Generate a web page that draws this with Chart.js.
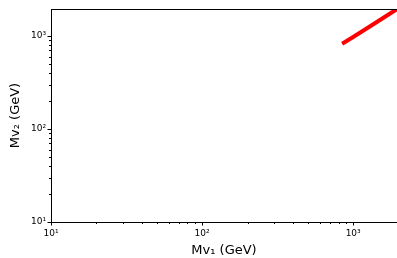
<!DOCTYPE html>
<html>
<head>
<meta charset="utf-8">
<script src="https://cdn.jsdelivr.net/npm/chart.js@4"></script>
<style>
  html, body { margin: 0; padding: 0; background: #fff; overflow: hidden; }
  #wrap { width: 397px; height: 258px; }
</style>
</head>
<body>
<div id="wrap"><canvas id="c" width="397" height="258"></canvas></div>
<script>
// values (log-log, GeV)
const mv1 = [845, 1000, 1400, 2000];
const mv2 = [825, 975, 1380, 2000];
const axisMin = 10;
const axisMax = 1950;
const decadeLabels = { 10: '10\u00b9', 100: '10\u00b2', 1000: '10\u00b3' };

const tickFont = { family: 'DejaVu Sans', size: 9 };
const titleFont = { family: 'DejaVu Sans', size: 13 };

// matplotlib-like outward tick marks (long on decades, short on 2..9) + top spine
const tickMarks = {
  id: 'tickMarks',
  afterDraw(chart) {
    const { ctx, chartArea: a, scales } = chart;
    ctx.save();
    ctx.strokeStyle = '#000';
    ctx.lineWidth = 1;
    for (const id of ['x', 'y']) {
      const s = scales[id];
      for (const t of s.ticks) {
        const e = Math.log10(t.value);
        const m = t.value / Math.pow(10, Math.floor(e + 1e-9));
        if (Math.abs(m - Math.round(m)) > 1e-6) continue;
        const major = Math.abs(e - Math.round(e)) < 1e-9;
        const len = major ? 3.5 : 2;
        const p = Math.round(s.getPixelForValue(t.value)) + 0.5;
        ctx.beginPath();
        if (id === 'x') { ctx.moveTo(p, a.bottom); ctx.lineTo(p, a.bottom + len); }
        else { ctx.moveTo(a.left, p); ctx.lineTo(a.left - len, p); }
        ctx.stroke();
      }
    }
    ctx.beginPath();
    ctx.moveTo(a.left, a.top + 0.5);
    ctx.lineTo(a.right, a.top + 0.5);
    ctx.stroke();
    ctx.restore();
  }
};

const chart = new Chart(document.getElementById('c'), {
  type: 'line',
  data: {
    datasets: [{
      data: mv1.map((x, i) => ({ x, y: mv2[i] })),
      borderColor: '#ff0000',
      borderWidth: 4,
      pointRadius: 0,
      fill: false,
      tension: 0
    }]
  },
  options: {
    responsive: false,
    animation: false,
    layout: { padding: { top: 9, right: 0, left: 0, bottom: 0 } },
    plugins: { legend: { display: false }, tooltip: { enabled: false } },
    scales: {
      x: {
        type: 'logarithmic',
        min: axisMin,
        max: axisMax,
        grid: { display: false, drawTicks: false },
        border: { display: true, color: '#000', width: 1 },
        ticks: {
          autoSkip: false, maxRotation: 0, padding: 6,
          color: '#000', font: tickFont,
          callback: v => decadeLabels[v] || ''
        },
        title: { display: true, text: 'Mv\u2081 (GeV)', color: '#000', font: titleFont, padding: { top: 0, bottom: 0 } },
        afterFit(s) { s.height = 36; s.paddingLeft = 0; s.paddingRight = 0; }
      },
      y: {
        type: 'logarithmic',
        min: axisMin,
        max: axisMax,
        grid: { display: false, drawTicks: false },
        border: { display: true, color: '#000', width: 1 },
        ticks: {
          autoSkip: false, padding: 5,
          color: '#000', font: tickFont,
          callback: v => decadeLabels[v] || ''
        },
        title: { display: true, text: 'Mv\u2082 (GeV)', color: '#000', font: titleFont, padding: { top: 8, bottom: 0 } },
        afterFit(s) { s.width = 51; s.paddingTop = 0; s.paddingBottom = 0; }
      }
    }
  },
  plugins: [tickMarks]
});
</script>
</body>
</html>
